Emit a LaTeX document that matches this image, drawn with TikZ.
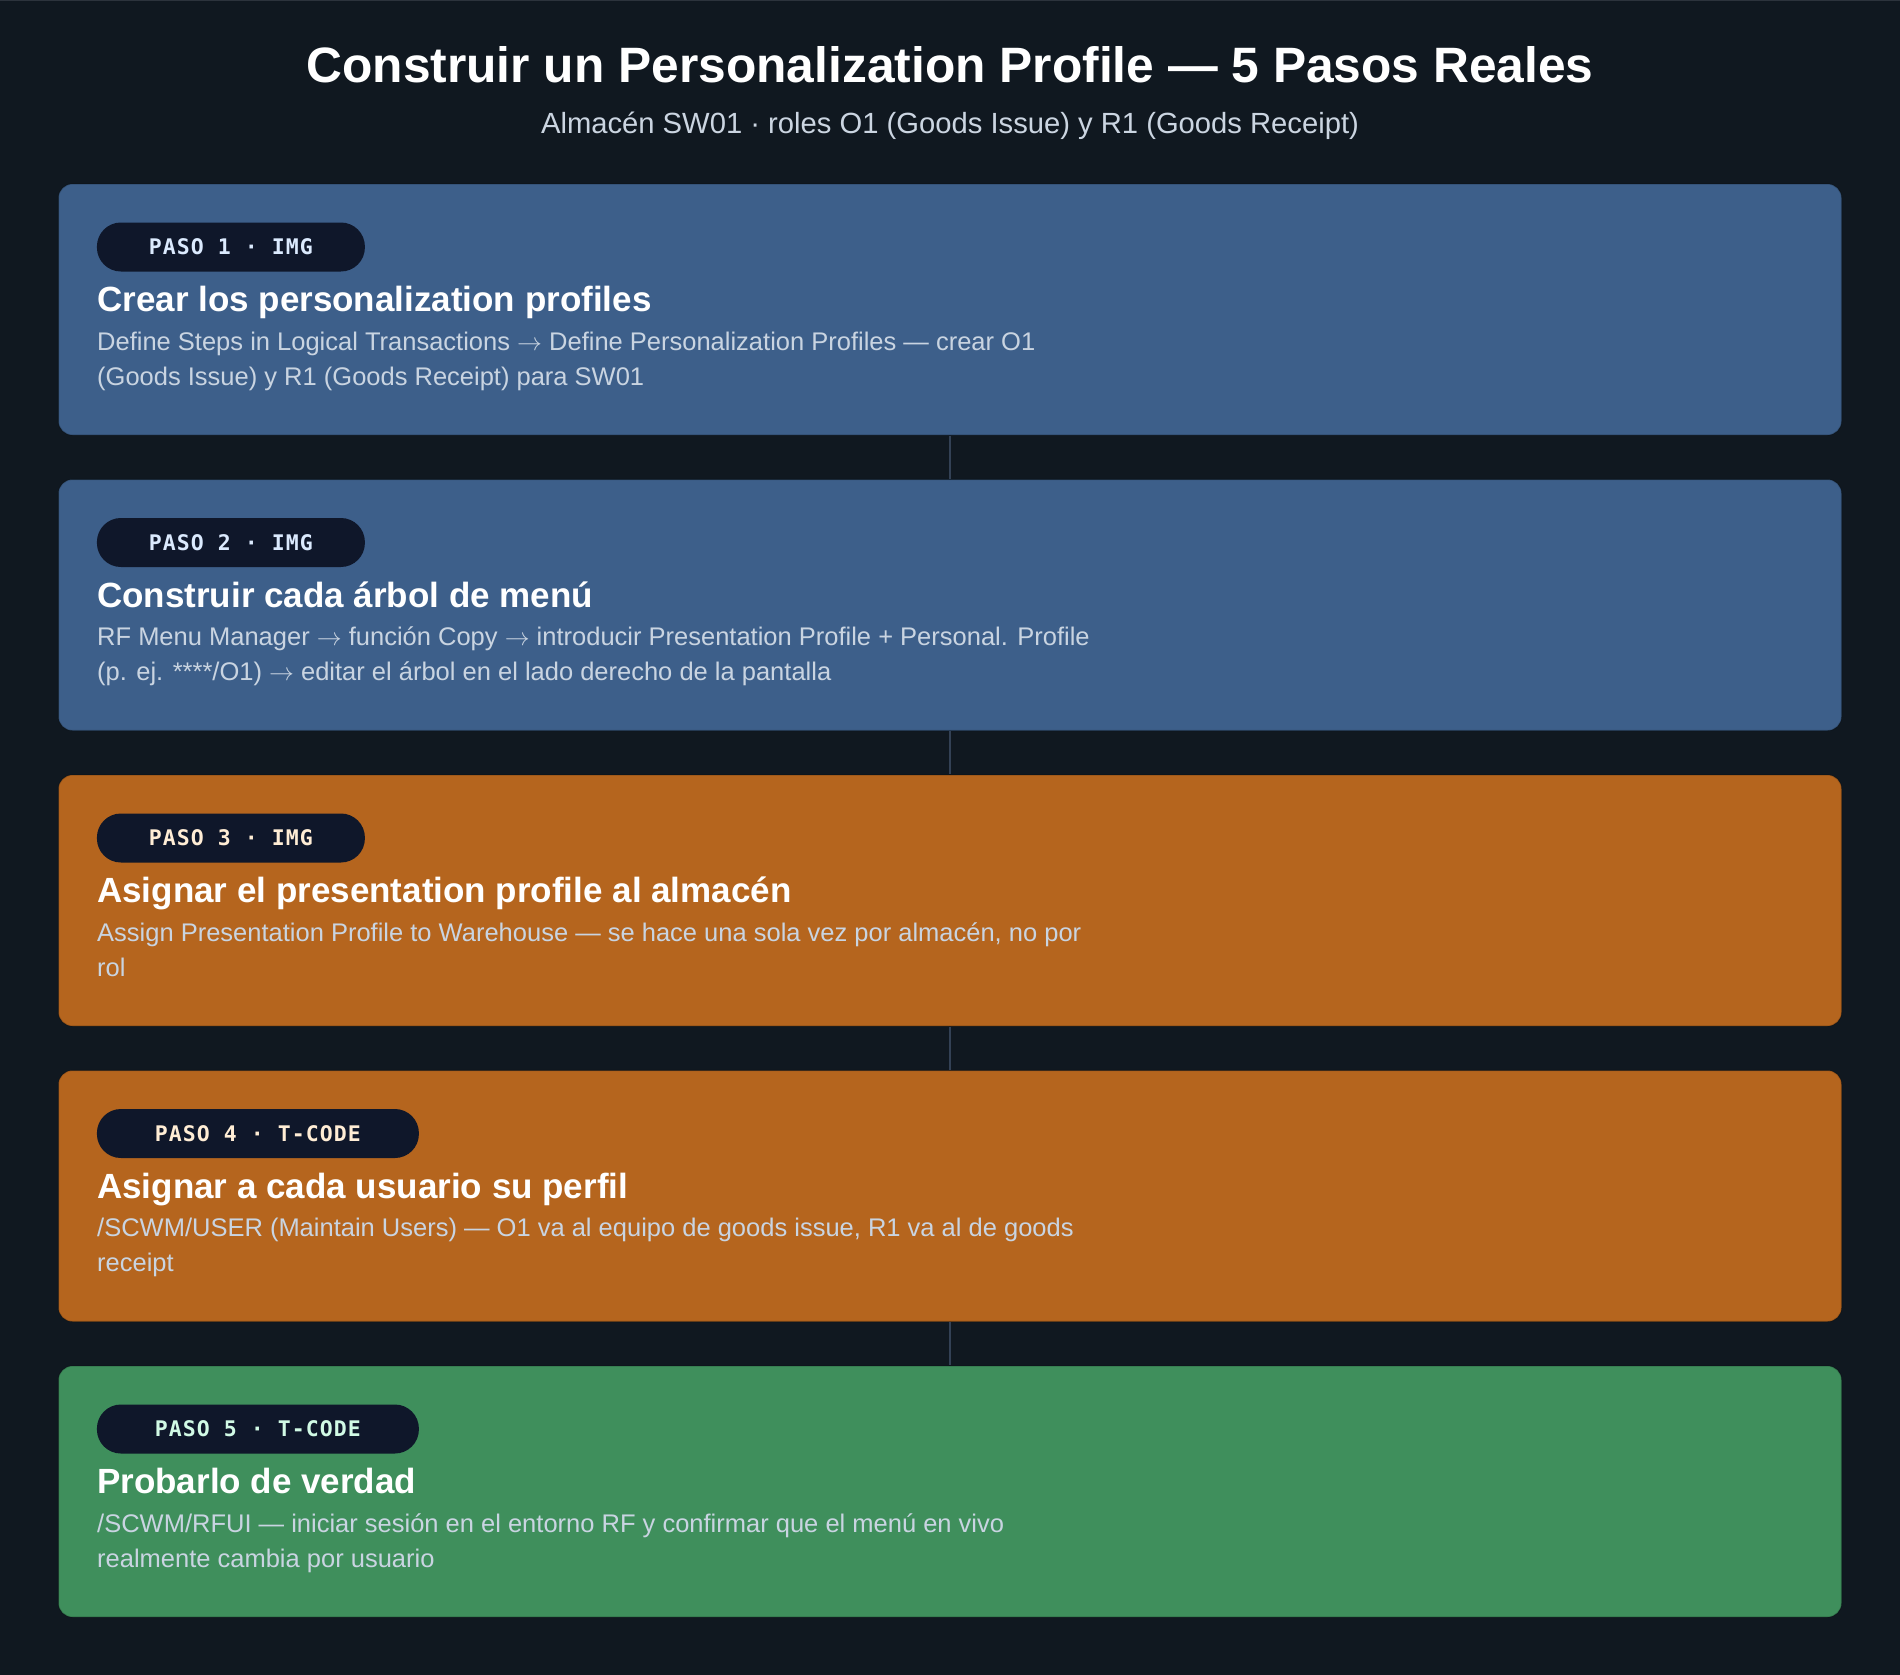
\documentclass[tikz,border=0pt]{standalone}
\usepackage{fontspec}
\setmainfont{Liberation Sans}
\newfontfamily\pillfont[LetterSpace=5]{DejaVu Sans Mono}
\newcommand{\myarrow}{\ensuremath{\rightarrow}}
\definecolor{bgc}{HTML}{101820}
\definecolor{topline}{HTML}{2C333C}
\definecolor{bluebox}{HTML}{3D5F8A}
\definecolor{orangebox}{HTML}{B5651E}
\definecolor{greenbox}{HTML}{3F8F5C}
\definecolor{pillc}{HTML}{0F172A}
\definecolor{bodyc}{HTML}{C9D4E1}
\definecolor{subc}{HTML}{CBD5E1}
\definecolor{connc}{HTML}{334155}
\definecolor{pillblue}{HTML}{DBEAFE}
\definecolor{pillorange}{HTML}{FFEDD5}
\definecolor{pillgreen}{HTML}{D1FAE5}
\tikzset{
  stepbox/.style={rectangle, minimum width=1783pt, minimum height=251pt, rounded corners=14pt, inner sep=0pt, draw=black, draw opacity=0.18, line width=1.2pt},
  pill/.style={rectangle, fill=pillc, rounded corners=24pt, minimum height=49pt, inner sep=0pt, text height=15.5pt, text depth=0pt, font=\pillfont\bfseries\fontsize{21.5}{25}\selectfont, anchor=west},
  pillshort/.style={pill, minimum width=268pt},
  pilllong/.style={pill, minimum width=322pt},
  steptitle/.style={anchor=base west, text=white, inner sep=0pt, font=\bfseries\fontsize{35}{41}\selectfont},
  bodyline/.style={anchor=base west, text=bodyc, inner sep=0pt, font=\fontsize{25.5}{35}\selectfont},
  conn/.style={draw=connc, line width=2.6pt}
}
\begin{document}
\begin{tikzpicture}[x=1pt,y=-1pt]
\fill[bgc] (0,0) rectangle (1900,1675);
\useasboundingbox (0,0) rectangle (1900,1675);
\fill[topline] (0,0) rectangle (1900,1.5);
\node[anchor=base, text=white, inner sep=0pt, font=\bfseries\fontsize{49.7}{60}\selectfont] (title) at (950,82.7) {Construir un Personalization Profile — 5 Pasos Reales};
\node[anchor=base, text=subc, inner sep=0pt, font=\fontsize{29.2}{35}\selectfont] (subtitle) at (950,133) {Almacén SW01 · roles O1 (Goods Issue) y R1 (Goods Receipt)};
% box 1
\node[stepbox, fill=bluebox] (b1) at (950,309.5) {};
\node[pillshort, text=pillblue] (p1) at (96.7,247) {PASO 1 · IMG};
\node[steptitle] (t1) at (97,311.7) {Crear los personalization profiles};
\node[bodyline] (d1a) at (97,350) {Define Steps in Logical Transactions \myarrow{} Define Personalization Profiles — crear O1};
\node[bodyline] (d1b) at (97,385) {(Goods Issue) y R1 (Goods Receipt) para SW01};
% box 2
\node[stepbox, fill=bluebox] (b2) at (950,605) {};
\node[pillshort, text=pillblue] (p2) at (96.7,542.5) {PASO 2 · IMG};
\node[steptitle] (t2) at (97,607.2) {Construir cada árbol de menú};
\node[bodyline] (d2a) at (97,645.5) {RF Menu Manager \myarrow{} función Copy \myarrow{} introducir Presentation Profile + Personal. Profile};
\node[bodyline] (d2b) at (97,680.5) {(p. ej. ****/O1) \myarrow{} editar el árbol en el lado derecho de la pantalla};
% box 3
\node[stepbox, fill=orangebox] (b3) at (950,900.5) {};
\node[pillshort, text=pillorange] (p3) at (96.7,838) {PASO 3 · IMG};
\node[steptitle] (t3) at (97,902.7) {Asignar el presentation profile al almacén};
\node[bodyline] (d3a) at (97,941) {Assign Presentation Profile to Warehouse — se hace una sola vez por almacén, no por};
\node[bodyline] (d3b) at (97,976) {rol};
% box 4
\node[stepbox, fill=orangebox] (b4) at (950,1196) {};
\node[pilllong, text=pillorange] (p4) at (96.7,1133.5) {PASO 4 · T-CODE};
\node[steptitle] (t4) at (97,1198.2) {Asignar a cada usuario su perfil};
\node[bodyline] (d4a) at (97,1236.5) {/SCWM/USER (Maintain Users) — O1 va al equipo de goods issue, R1 va al de goods};
\node[bodyline] (d4b) at (97,1271.5) {receipt};
% box 5
\node[stepbox, fill=greenbox] (b5) at (950,1491.5) {};
\node[pilllong, text=pillgreen] (p5) at (96.7,1429) {PASO 5 · T-CODE};
\node[steptitle] (t5) at (97,1493.7) {Probarlo de verdad};
\node[bodyline] (d5a) at (97,1532) {/SCWM/RFUI — iniciar sesión en el entorno RF y confirmar que el menú en vivo};
\node[bodyline] (d5b) at (97,1567) {realmente cambia por usuario};
% connectors
\draw[conn] (b1.south) -- (b2.north);
\draw[conn] (b2.south) -- (b3.north);
\draw[conn] (b3.south) -- (b4.north);
\draw[conn] (b4.south) -- (b5.north);
\end{tikzpicture}
\end{document}
